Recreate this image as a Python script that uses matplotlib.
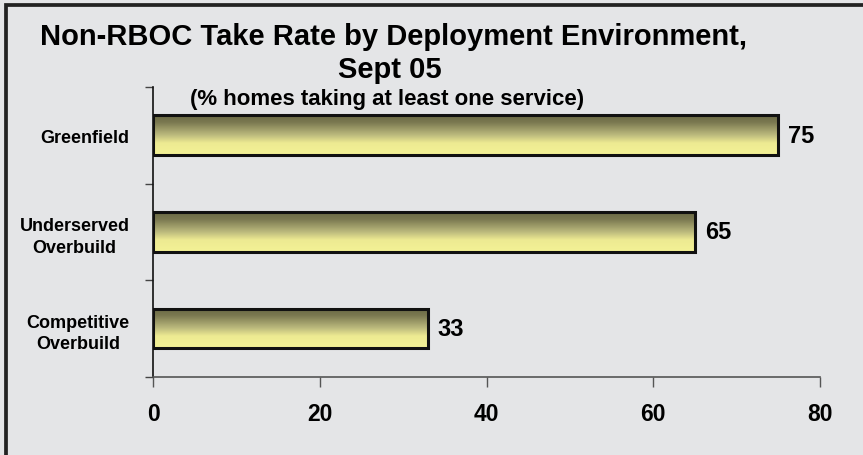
import numpy as np
import matplotlib.pyplot as plt
from matplotlib.colors import LinearSegmentedColormap
from matplotlib.patches import Rectangle

# take rate (% of homes taking at least one service)
categories = ["Competitive\nOverbuild", "Underserved\nOverbuild", "Greenfield"]
take_rate = [33, 65, 75]
x_ticks = [0, 20, 40, 60, 80]

bg = "#e4e5e7"
plt.rcParams['font.family'] = ['Liberation Sans', 'DejaVu Sans']

fig = plt.figure(figsize=(8.63, 4.56), dpi=100, facecolor=bg)
ax = fig.add_axes([0.1773, 0.1711, 0.7729, 0.636])
ax.set_facecolor(bg)

# vertical olive -> pale yellow shading for each bar
shade = LinearSegmentedColormap.from_list(
    "shade", [(0.0, "#6a6945"), (0.18, "#7a7850"), (0.48, "#b8b67b"),
              (0.7, "#edea92"), (1.0, "#f4f296")])
grad = np.linspace(0, 1, 256).reshape(-1, 1)

bar_h = 0.41
ypos = np.arange(len(categories))
for y, v in zip(ypos, take_rate):
    ax.imshow(grad, cmap=shade, aspect="auto", origin="upper",
              extent=[0, v, y - bar_h / 2, y + bar_h / 2], zorder=2)
    ax.add_patch(Rectangle((0, y - bar_h / 2), v, bar_h, fill=False,
                           edgecolor="#111111", linewidth=2.2, zorder=3))
    ax.annotate(str(v), (v, y), xytext=(7, 0), textcoords="offset points",
                va="center", ha="left", fontsize=17, fontweight="bold")

ax.set_xlim(0, 80)
ax.set_ylim(-0.5, 2.5)
ax.set_xticks(x_ticks)
ax.set_xticklabels([str(t) for t in x_ticks], fontsize=16.5, fontweight="bold")
ax.set_yticks(ypos)
ax.set_yticklabels(categories, fontsize=13, fontweight="bold", linespacing=1.35)
ax.set_yticks([-0.5, 0.5, 1.5, 2.5], minor=True)
ax.tick_params(axis="y", which="major", length=0, pad=17)
ax.tick_params(axis="y", which="minor", length=6, color="#444444", width=1)
ax.tick_params(axis="x", length=7, color="#555555", width=1, pad=11)
for lbl in ax.get_yticklabels():
    lbl.set_multialignment("center")

ax.spines["top"].set_visible(False)
ax.spines["right"].set_visible(False)
ax.spines["left"].set_color("#111111")
ax.spines["left"].set_linewidth(1.2)
ax.spines["bottom"].set_color("#555555")
ax.spines["bottom"].set_linewidth(1.2)

fig.text(0.456, 0.919, "Non-RBOC Take Rate by Deployment Environment,",
         ha="center", va="center", fontsize=21, fontweight="bold")
fig.text(0.452, 0.846, "Sept 05", ha="center", va="center",
         fontsize=21, fontweight="bold")
fig.text(0.449, 0.781, "(% homes taking at least one service)",
         ha="center", va="center", fontsize=16, fontweight="bold")

# dark frame line along the top and left edges
fig.add_artist(Rectangle((6 / 863, -0.1), 1.2, 1.1 - 6 / 456,
                         transform=fig.transFigure, fill=False,
                         edgecolor="#222222", linewidth=2.7))

fig.savefig("out.png", dpi=100, facecolor=bg)
